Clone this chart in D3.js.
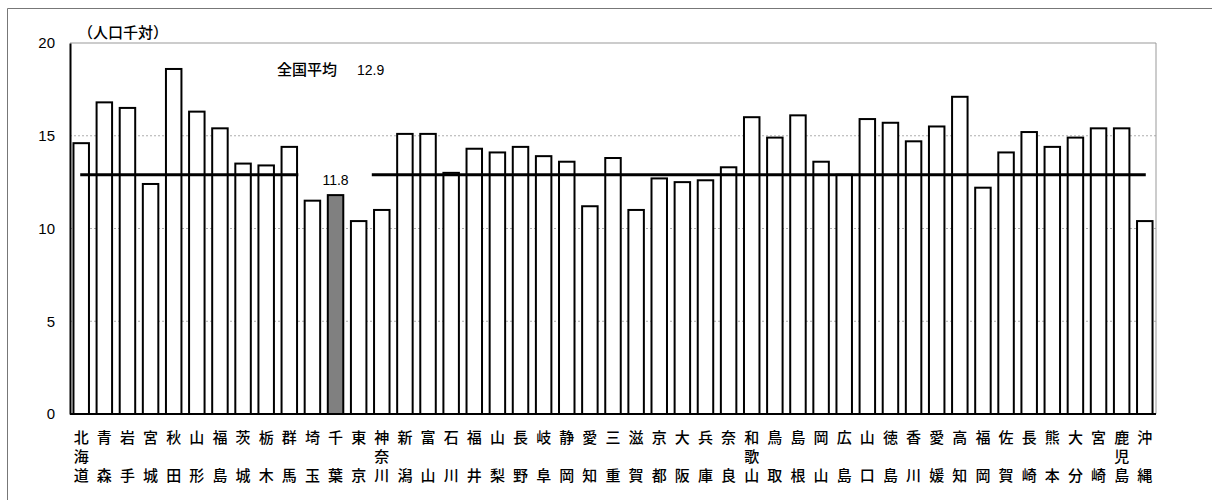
<!DOCTYPE html>
<html lang="ja">
<head>
<meta charset="UTF-8">
<style>
  body { margin: 0; background: #fff; }
  svg text { font-family: "Noto Sans CJK JP", "Liberation Sans", sans-serif; fill: #000; }
</style>
<script src="https://cdn.jsdelivr.net/npm/d3@7"></script>
</head>
<body>
<svg id="chart" width="1212" height="500"></svg>
<script>
const prefs = ["北海道","青森","岩手","宮城","秋田","山形","福島","茨城","栃木","群馬","埼玉","千葉","東京","神奈川",
  "新潟","富山","石川","福井","山梨","長野","岐阜","静岡","愛知","三重","滋賀","京都","大阪","兵庫","奈良","和歌山",
  "鳥取","島根","岡山","広島","山口","徳島","香川","愛媛","高知","福岡","佐賀","長崎","熊本","大分","宮崎","鹿児島","沖縄"];
const rates = [14.6,16.8,16.5,12.4,18.6,16.3,15.4,13.5,13.4,14.4,11.5,11.8,10.4,11.0,
  15.1,15.1,13.0,14.3,14.1,14.4,13.9,13.6,11.2,13.8,11.0,12.7,12.5,12.6,13.3,16.0,
  14.9,16.1,13.6,12.9,15.9,15.7,14.7,15.5,17.1,12.2,14.1,15.2,14.4,14.9,15.4,15.4,10.4];
const yTicks = [0,5,10,15,20];
const nationalAvg = 12.9;
const highlight = "千葉";

const svg = d3.select("#chart");
const pl = 70, pr = 1156, pt = 43, pb = 414;

// outer frame
svg.append("path").attr("d", "M7.5,500 V8.5 H1212").attr("fill", "none").attr("stroke", "#777");

const x = d3.scaleBand().domain(prefs).range([pl, pr]).paddingInner(0.33).paddingOuter(0.15);
const y = d3.scaleLinear().domain([0, 20]).range([pb, pt]);

// grid
svg.append("g").selectAll("line").data(yTicks.filter(t => t > 0 && t < 20)).join("line")
  .attr("x1", pl).attr("x2", pr).attr("y1", d => y(d)).attr("y2", d => y(d))
  .attr("stroke", "#999").attr("stroke-dasharray", "2,2").attr("stroke-width", 0.8);

// plot border top/right grey
svg.append("path").attr("d", `M${pl},${pt} H${pr} V${pb}`).attr("fill", "none").attr("stroke", "#999");

// bars
svg.append("g").selectAll("rect").data(prefs).join("rect")
  .attr("x", d => x(d)).attr("width", x.bandwidth())
  .attr("y", (d, i) => y(rates[i])).attr("height", (d, i) => y(0) - y(rates[i]))
  .attr("fill", d => d === highlight ? "#808080" : "#fff")
  .attr("stroke", "#000").attr("stroke-width", 2);

// axis
const yAxis = svg.append("g").attr("transform", `translate(${pl},0)`)
  .call(d3.axisLeft(y).tickValues(yTicks).tickSize(0).tickPadding(15));
yAxis.select(".domain").attr("stroke", "#000").attr("stroke-width", 2);
yAxis.selectAll("text").style("font-size", "15px").style("font-family", "Liberation Sans, sans-serif");
svg.append("line").attr("x1", pl).attr("x2", pr).attr("y1", pb).attr("y2", pb)
  .attr("stroke", "#000").attr("stroke-width", 2);

// category labels, vertical
const lab = svg.append("g");
prefs.forEach(p => {
  const cx = x(p) + x.bandwidth() / 2;
  const chars = [...p];
  const rows = chars.length === 3 ? chars : [chars[0], "", chars[1]];
  rows.forEach((c, r) => {
    if (!c) return;
    lab.append("text").attr("x", cx).attr("y", 443 + r * 19).attr("text-anchor", "middle")
      .style("font-size", "15px").style("font-weight", 500).text(c);
  });
});

// national average line, broken around the gap
const cx = p => x(p) + x.bandwidth() / 2;
const seg = [[cx("北海道") - 1, cx("群馬") + 9], [cx("神奈川") - 10, cx("沖縄") + 1]];
svg.append("g").selectAll("line").data(seg).join("line")
  .attr("x1", d => d[0]).attr("x2", d => d[1])
  .attr("y1", y(nationalAvg)).attr("y2", y(nationalAvg))
  .attr("stroke", "#000").attr("stroke-width", 3);

svg.append("text").attr("x", 277).attr("y", 75).style("font-size", "15px").style("font-weight", 500).text("全国平均");
svg.append("text").attr("x", 357).attr("y", 75).style("font-size", "14px")
  .style("font-family", "Liberation Sans, sans-serif").text(String(nationalAvg));
svg.append("text").attr("x", cx(highlight)).attr("y", 185).attr("text-anchor", "middle")
  .style("font-size", "14px").style("font-family", "Liberation Sans, sans-serif")
  .text(rates[prefs.indexOf(highlight)].toFixed(1));
svg.append("text").attr("x", 78).attr("y", 38).style("font-size", "15px").style("font-weight", 500).text("（人口千対）");
</script>
</body>
</html>
